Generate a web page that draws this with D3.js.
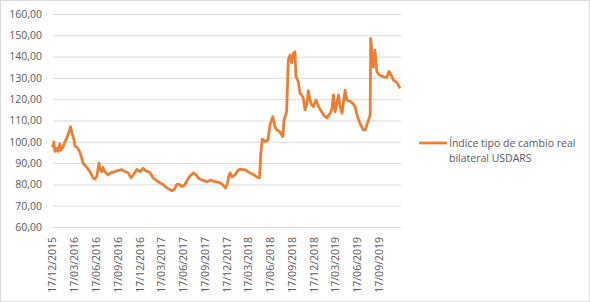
<!DOCTYPE html>
<html>
<head>
<meta charset="utf-8">
<script src="https://cdn.jsdelivr.net/npm/d3@7"></script>
<style>
  body { margin: 0; background: #fff; }
  text { font-family: "Open Sans", sans-serif; fill: #595959; }
</style>
</head>
<body>
<div id="chart"></div>
<script>
// data (approximate)
var dates = ["2015-12-17","2015-12-21","2015-12-25","2015-12-29","2016-01-07","2016-01-11","2016-01-19","2016-01-23","2016-02-01","2016-02-09",
  "2016-02-18","2016-02-26","2016-03-04","2016-03-10","2016-03-18","2016-03-22","2016-03-31","2016-04-08","2016-04-12","2016-04-21",
  "2016-04-25","2016-05-03","2016-05-11","2016-05-24","2016-06-06","2016-06-14","2016-06-22","2016-07-01","2016-07-05","2016-07-13",
  "2016-07-17","2016-07-26","2016-08-07","2016-08-20","2016-09-06","2016-09-19","2016-10-04","2016-10-18","2016-10-31","2016-11-12",
  "2016-11-25","2016-12-06","2016-12-20","2017-01-02","2017-01-10","2017-01-23","2017-01-31","2017-02-13","2017-02-25","2017-03-14",
  "2017-03-27","2017-04-04","2017-04-17","2017-05-02","2017-05-12","2017-05-23","2017-06-02","2017-06-13","2017-06-23","2017-07-11",
  "2017-07-18","2017-07-31","2017-08-12","2017-08-21","2017-09-06","2017-09-26","2017-10-10","2017-10-31","2017-11-12","2017-11-21",
  "2017-12-03","2017-12-12","2017-12-20","2017-12-28","2018-01-01","2018-01-09","2018-01-22","2018-01-30","2018-02-12","2018-03-05",
  "2018-03-26","2018-04-11","2018-04-23","2018-05-04","2018-05-10","2018-05-16","2018-05-28","2018-06-09","2018-06-17","2018-06-29",
  "2018-07-08","2018-07-17","2018-07-29","2018-08-10","2018-08-15","2018-08-26","2018-09-02","2018-09-09","2018-09-16","2018-09-23",
  "2018-09-30","2018-10-04","2018-10-14","2018-10-21","2018-10-28","2018-11-04","2018-11-11","2018-11-19","2018-11-25","2018-12-02",
  "2018-12-09","2018-12-16","2018-12-27","2019-01-05","2019-01-14","2019-01-28","2019-02-04","2019-02-11","2019-02-18","2019-02-25",
  "2019-03-04","2019-03-10","2019-03-17","2019-03-31","2019-04-07","2019-04-15","2019-04-28","2019-05-05","2019-05-19","2019-05-31",
  "2019-06-09","2019-06-16","2019-06-22","2019-06-30","2019-07-13","2019-07-21","2019-07-28","2019-08-11","2019-08-13","2019-08-24",
  "2019-08-31","2019-09-08","2019-09-17","2019-09-28","2019-10-08","2019-10-19","2019-10-29","2019-11-02","2019-11-16","2019-11-23",
  "2019-12-03","2019-12-14"];

var values = [97.5,98,100,95.5,97,95.5,99,96,97.5,100,
  102,104.5,107,104,101,98,97.5,96,95,92,
  90,89,88,86,83,82.5,84,90,87,86,
  88,86,84.5,85.5,86,86.5,87,86,85.5,83,
  85,87,86,87.6,86.5,86,85.5,83,82,80.7,
  80,79,78,77,77.5,80,80,79,79.5,83,
  84,85.4,84.5,83,82,81.3,82,81.3,81,80.7,
  79.7,78.3,80,84.5,85.4,83.5,84.5,86,87.2,86.8,
  85.4,84.5,83.5,83,94.7,101.3,100.2,100.8,107.9,111.8,
  107,105.5,104.7,102.4,110.2,114.1,138.4,140.7,137,141.5,
  142.3,130.6,128.2,122.8,122,120.4,115,118,124,119.6,
  117.3,116.5,119.6,117,115,112.6,111.8,111.2,112.6,113.4,
  115.7,122,114,122,116.5,113.4,124.3,119.6,119,118,
  116.5,113,111,108.5,105.6,105.5,107.9,112.6,148.6,135,
  143,133,131.5,130.8,130.5,130.2,133,132.5,129,128.5,
  127.6,125.1];

var yTicks = [60, 70, 80, 90, 100, 110, 120, 130, 140, 150, 160];
var xTickLabels = ["17/12/2015","17/03/2016","17/06/2016","17/09/2016","17/12/2016","17/03/2017","17/06/2017","17/09/2017",
  "17/12/2017","17/03/2018","17/06/2018","17/09/2018","17/12/2018","17/03/2019","17/06/2019","17/09/2019"];
var seriesName = ["Índice tipo de cambio real", "bilateral USDARS"];

var W = 590, H = 302;
var parse = d3.timeParse("%Y-%m-%d");
var parseLabel = d3.timeParse("%d/%m/%Y");
var data = dates.map(function(d, i) { return { date: parse(d), value: values[i] }; });

var svg = d3.select("#chart").append("svg")
  .attr("width", W)
  .attr("height", H);

// outer frame
svg.append("rect")
  .attr("x", 0.5).attr("y", 0.5)
  .attr("width", W - 1).attr("height", H - 1)
  .attr("fill", "#fff")
  .attr("stroke", "#d9d9d9");

var x = d3.scaleTime()
  .domain([parse("2015-12-17"), parse("2019-12-14")])
  .range([52, 400]);

var y = d3.scaleLinear()
  .domain([60, 160])
  .range([227, 14]);

// gridlines + y labels
var yAxis = svg.append("g")
  .attr("transform", "translate(53,0)")
  .call(d3.axisLeft(y).tickValues(yTicks).tickSize(-348).tickPadding(11)
    .tickFormat(function(d) { return d3.format(".2f")(d).replace(".", ","); }));
yAxis.select(".domain").remove();
yAxis.selectAll("line").attr("stroke", "#d9d9d9");
yAxis.selectAll("text").attr("font-size", "10.5px").style("fill", "#595959");

// x labels, rotated
var xAxis = svg.append("g")
  .attr("transform", "translate(0,227)")
  .call(d3.axisBottom(x).tickValues(xTickLabels.map(function(s) { return parseLabel(s); }))
    .tickSize(0).tickFormat(d3.timeFormat("%d/%m/%Y")));
xAxis.select(".domain").remove();
xAxis.selectAll("text")
  .attr("font-size", "10.5px")
  .style("fill", "#595959")
  .attr("text-anchor", "end")
  .attr("transform", "rotate(-90)")
  .attr("x", -10)
  .attr("y", 0)
  .attr("dy", "0.35em");

// the series
var line = d3.line()
  .x(function(d) { return x(d.date); })
  .y(function(d) { return y(d.value); });

svg.append("path")
  .datum(data)
  .attr("fill", "none")
  .attr("stroke", "#ed7d31")
  .attr("stroke-width", 2.75)
  .attr("stroke-linejoin", "round")
  .attr("d", line);

// legend
var legend = svg.append("g").attr("transform", "translate(419,143)");
legend.append("line")
  .attr("x1", 0).attr("x2", 28)
  .attr("stroke", "#ed7d31")
  .attr("stroke-width", 2.75);
legend.selectAll("text.lbl")
  .data(seriesName)
  .enter().append("text")
  .attr("class", "lbl")
  .attr("x", 30)
  .attr("y", function(d, i) { return 4 + i * 14.5; })
  .attr("font-size", "10.5px")
  .text(function(d) { return d; });
</script>
</body>
</html>
